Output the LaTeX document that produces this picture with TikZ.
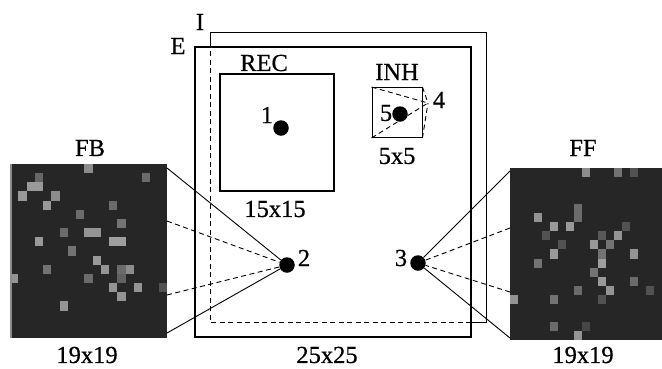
\documentclass[tikz,border=0pt]{standalone}
\usepackage{fontspec}
\setmainfont{Liberation Serif}
\usetikzlibrary{positioning}

\begin{document}
\begin{tikzpicture}[x=1pt,y=-1pt,
    lbl/.style={font=\fontsize{24.5}{26}\selectfont\addfontfeatures{FakeBold=0.6},inner sep=0pt},
    unit/.style={circle,fill=black,inner sep=0pt,minimum size=15.5pt},
    link/.style={line width=0.9pt},
    dlink/.style={line width=0.9pt,dash pattern=on 5pt off 3.5pt},
    bgpix/.style={fill=black!85}]
  \useasboundingbox (0,0) rectangle (662,368);

  % outer layers: E (thick) and I (thin, dashed where it lies inside E)
  \draw[line width=2pt] (195,47) rectangle (471,337);
  \coordinate (iTL) at (210,32);
  \coordinate (iTR) at (486,32);
  \coordinate (iBR) at (486,322);
  \coordinate (iBL) at (210,322);
  \draw[line width=0.9pt] (210,47) -- (iTL) -- (iTR) -- (iBR) -- (471,322);
  \draw[line width=0.9pt,dash pattern=on 5pt off 3.5pt] (471,322) -- (iBL) -- (210,47);
  \node[lbl] (labE) at (178,46) {E};
  \node[lbl] (labI) at (200,22) {I};
  \node[lbl] (size25) at (327,355) {25x25};

  % recurrent field
  \draw[line width=2pt] (220,74) rectangle (334,191);
  \node[lbl] (labREC) at (264,63) {REC};
  \node[lbl] (size15) at (275,209) {15x15};

  % inhibitory field
  \node[draw,line width=0.9pt,minimum width=50pt,minimum height=50pt,inner sep=0pt]
    (inh) at (397,112.5) {};
  \node[lbl] (labINH) at (397,72) {INH};
  \node[lbl] (size5) at (397,156) {5x5};
  \coordinate (n4) at (428,103);
  \foreach \k in {north west,south west,north east,south east}
    \draw[dlink] (inh.\k) -- (n4);
  \node[lbl] (lab4) at (439,100) {4};

  % FB input map
  \begin{scope}[shift={(10,164)},x=8.26pt,y=-9.16pt]
    \fill[bgpix] (0,0) rectangle (19,19);
    \foreach \c/\r/\g in {9/0/45,3/1/60,2/2/40,3/2/40,1/3/40,5/3/45,4/4/40,
        16/1/58,12/4/58,8/5/58,13/6/55,6/7/58,9/7/42,10/7/42,3/8/40,12/8/38,
        13/8/38,7/9/55,10/10/40,4/11/55,11/11/42,13/11/58,14/11/45,0/12/42,
        9/12/58,13/12/62,12/13/42,15/13/42,18/13/68,13/14/42,6/15/42}
      \fill[black!\g] (\c,\r) rectangle ++(1,1);
    \fill[black!45] (0,0) rectangle (0.2,19);
  \end{scope}
  \node[lbl] (labFB) at (90,148) {FB};
  \node[lbl] (sizeFB) at (87,355) {19x19};

  % FF input map
  \begin{scope}[shift={(510,168)},x=8pt,y=-9.05pt]
    \fill[bgpix] (0,0) rectangle (19,19);
    \foreach \c/\r/\g in {9/0/45,13/0/55,15/0/68,8/4/58,8/5/58,3/5/42,5/6/40,
        7/6/40,14/6/68,4/7/68,13/7/42,11/7/65,6/8/68,10/8/40,12/8/55,5/9/40,
        11/9/55,15/9/42,3/10/55,11/10/38,10/11/55,11/12/40,15/12/58,12/13/42,
        8/13/58,17/13/68,0/14/42,5/14/55,11/14/68,5/17/58,9/17/72,8/18/42}
      \fill[black!\g] (\c,\r) rectangle ++(1,1);
  \end{scope}
  \node[lbl] (labFF) at (583,148) {FF};
  \node[lbl] (sizeFF) at (583,355) {19x19};

  % units
  \node[unit] (n1) at (281,128) {};
  \node[unit] (n2) at (287,265) {};
  \node[unit] (n3) at (418,263) {};
  \node[unit] (n5) at (400,114) {};
  \node[lbl] (lab1) at (267,115) {1};
  \node[lbl] (lab2) at (304,258) {2};
  \node[lbl] (lab3) at (401,258) {3};
  \node[lbl] (lab5) at (386,113) {5};

  % projections from the input maps
  \coordinate (fb1) at (167,168);
  \coordinate (fb2) at (167,221);
  \coordinate (fb3) at (167,295);
  \coordinate (fb4) at (167,333);
  \coordinate (ff1) at (510,171);
  \coordinate (ff2) at (510,228);
  \coordinate (ff3) at (510,292);
  \coordinate (ff4) at (510,338);
  \draw[link] (fb1) -- (n2);
  \draw[link] (fb4) -- (n2);
  \draw[dlink] (fb2) -- (n2);
  \draw[dlink] (fb3) -- (n2);
  \draw[link] (ff1) -- (n3);
  \draw[link] (ff4) -- (n3);
  \draw[dlink] (ff2) -- (n3);
  \draw[dlink] (ff3) -- (n3);
\end{tikzpicture}
\end{document}
